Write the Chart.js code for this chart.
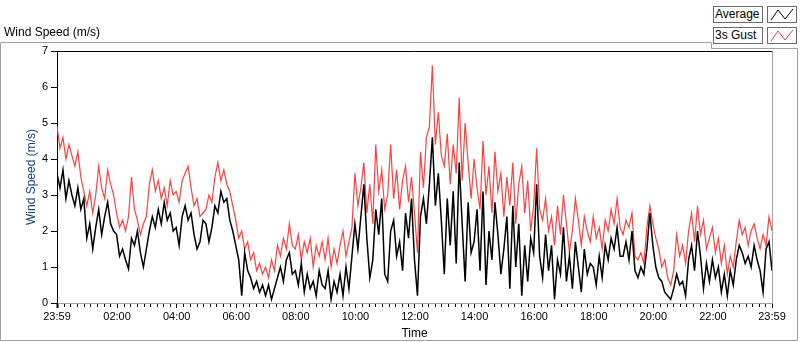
<!DOCTYPE html>
<html>
<head>
<meta charset="utf-8">
<title>Wind Speed (m/s)</title>
<script src="https://cdn.jsdelivr.net/npm/chart.js@4"></script>
<style>
  html, body { margin: 0; padding: 0; background: #fff; }
  #wrap { position: relative; width: 800px; height: 342px; font-family: "Liberation Sans", Arial, sans-serif; color: #000; }
  #chart { position: absolute; left: 0; top: 0; }
  #frame { position: absolute; left: 0; top: 0; pointer-events: none; }
  .caption { position: absolute; left: 4px; top: 25px; font-size: 12px; line-height: 14px; }
  .legText { position: absolute; left: 713px; width: 47px; height: 15px; border: 1px solid #6a6a6a; background: #fff;
             font-size: 12px; line-height: 15px; padding-left: 1px; }
  .legIcon { position: absolute; left: 767px; width: 28px; height: 15px; border: 1px solid #6a6a6a; background: #fff; }
</style>
</head>
<body>
<div id="wrap">
  <canvas id="chart" width="800" height="342"></canvas>
  <svg id="frame" width="800" height="342">
    <path d="M0.5,340.5 V42.5 H711.5 V48.5 H797.5 V340.5 Z" fill="none" stroke="#a0a0a0" stroke-width="1"/>
  </svg>
  <div class="caption">Wind Speed (m/s)</div>
  <div class="legText" style="top:6px">Average</div>
  <svg class="legIcon" style="top:6px" width="28" height="15"><polyline points="3,13 10,3 17,12 25,2" fill="none" stroke="#000" stroke-width="1"/></svg>
  <div class="legText" style="top:27px">3s Gust</div>
  <svg class="legIcon" style="top:27px" width="28" height="15"><polyline points="3,13 10,3 17,12 25,2" fill="none" stroke="#ff4040" stroke-width="1"/></svg>
</div>
<script>
// ─── one sample every 6 minutes, from 23:59 to 23:59 ───
const stepMinutes = 6;

const avgSpeed = [
  3.6, 3.2, 3.7, 2.9, 3.4, 3.0, 2.7, 3.2, 2.6, 2.9,
  1.8, 2.2, 1.5, 2.1, 2.6, 1.9, 2.4, 2.8, 2.2, 2.0,
  1.9, 1.3, 1.5, 1.2, 0.95, 1.8, 1.6, 2.0, 1.4, 1.0,
  1.5, 2.0, 2.4, 2.1, 2.6, 2.2, 2.8, 2.3, 2.5, 2.0,
  2.1, 1.6, 2.4, 2.7, 2.3, 2.5, 1.9, 1.5, 1.7, 2.3,
  2.2, 1.7, 2.1, 2.7, 2.5, 3.1, 2.8, 2.9, 2.3, 2.0,
  1.6, 1.2, 0.2, 1.4, 0.9, 0.7, 0.4, 0.6, 0.3, 0.5,
  0.2, 0.5, 0.1, 0.4, 0.7, 1.0, 0.6, 1.2, 1.4, 0.8,
  0.9, 0.5, 1.1, 0.3, 0.8, 0.4, 0.6, 0.2, 0.9, 0.5,
  0.4, 0.9, 0.1, 0.6, 0.3, 0.8, 0.2, 1.0, 0.4, 1.3,
  2.2, 1.5, 2.4, 3.3, 1.8, 0.7, 1.2, 2.6, 1.9, 2.9,
  0.8, 0.6, 2.0, 2.3, 1.3, 1.7, 0.9, 2.5, 1.8, 2.9,
  1.2, 0.2, 2.4, 2.9, 2.2, 3.3, 4.6, 2.7, 3.6, 2.3,
  0.8, 2.9, 1.6, 3.1, 1.1, 3.9, 2.2, 0.6, 2.8, 1.4,
  1.7, 2.6, 0.9, 3.1, 0.5, 2.0, 1.2, 2.8, 1.9, 0.8,
  1.5, 2.4, 0.4, 2.7, 1.0, 2.2, 0.2, 1.6, 0.6, 1.8,
  1.4, 3.3, 1.3, 0.7, 1.9, 0.9, 1.6, 0.1, 1.2, 0.8,
  2.1, 0.6, 1.3, 0.4, 1.7, 1.0, 0.3, 1.5, 0.8, 1.1,
  1.0, 0.5, 1.3, 0.7, 1.6, 1.2, 1.8, 1.5, 2.1, 1.3,
  1.3, 1.7, 1.2, 2.0, 0.9, 0.7, 1.0, 0.8, 1.5, 2.5,
  1.6, 1.0, 0.7, 0.6, 0.3, 0.2, 0.1, 0.4, 0.8, 0.5,
  0.6, 0.2, 1.2, 1.6, 0.9, 2.0, 1.3, 0.4, 1.1, 0.6,
  1.2, 0.7, 1.0, 0.3, 0.8, 0.2, 0.9, 0.5, 1.2, 1.6,
  1.4, 1.1, 1.3, 1.0, 1.6, 1.2, 0.9, 0.3, 1.5, 1.7,
  0.9
];

const gustSpeed = [
  4.9, 4.3, 4.6, 4.0, 4.4, 4.1, 3.8, 4.2, 3.5, 3.1,
  2.7, 3.1, 2.5, 3.0, 3.8, 3.2, 2.9, 3.7, 3.3, 3.0,
  2.5, 2.1, 2.3, 2.0, 2.4, 3.5, 2.6, 2.3, 1.9, 2.2,
  2.4, 3.3, 3.7, 3.1, 3.4, 2.9, 3.2, 2.7, 3.4, 3.0,
  3.1, 2.8, 3.4, 3.6, 3.8, 3.2, 2.7, 2.9, 2.4, 2.5,
  2.6, 3.0, 2.8, 3.5, 3.9, 3.4, 3.7, 3.3, 3.1, 2.7,
  2.3, 1.8, 2.0, 1.5, 1.7, 1.2, 1.4, 0.9, 1.1, 0.8,
  1.0, 0.7, 1.2, 0.9, 1.6, 1.3, 1.8, 1.5, 2.2, 1.6,
  1.5, 1.9, 1.2, 1.7, 1.4, 1.8, 1.0, 1.6, 1.3, 1.7,
  1.2, 1.8, 1.0, 1.5, 1.1, 1.6, 2.0, 1.3, 1.7, 2.1,
  3.6, 2.7, 3.2, 3.9, 2.5, 3.3, 2.2, 4.4, 3.1, 3.7,
  2.6, 3.0, 4.4, 2.9, 3.7, 2.6, 3.4, 3.8, 2.8, 3.5,
  2.5, 1.4, 4.2, 3.2, 4.6, 4.9, 6.6, 4.4, 5.3, 4.1,
  3.8, 4.7, 3.3, 4.4, 3.6, 5.7, 3.4, 5.0, 3.9, 2.9,
  4.0, 3.2, 2.6, 4.5, 3.0, 3.8, 2.5, 4.2, 3.1, 3.6,
  2.4, 3.5, 2.7, 3.9, 2.2, 3.3, 3.8, 2.5, 3.4, 2.0,
  2.7, 4.3, 2.6, 2.3, 2.9, 2.0, 2.4, 1.6, 2.7, 1.9,
  3.0, 2.2, 1.4, 2.0, 2.9, 2.3, 1.6, 2.4, 2.0, 1.7,
  2.4, 1.8, 2.1, 1.5, 2.3, 2.0, 2.6, 2.2, 2.9, 2.1,
  1.9, 2.3, 2.1, 2.5, 1.3, 1.2, 1.4, 1.1, 2.1, 2.7,
  2.2, 1.8, 1.5, 1.0, 1.2, 0.7, 0.5, 0.9, 1.9, 1.3,
  1.6, 1.1, 2.0, 2.5, 1.7, 2.7, 1.9, 2.3, 1.5, 1.8,
  2.1, 1.4, 1.8, 1.1, 1.6, 0.8, 1.3, 1.0, 1.7, 2.3,
  1.9, 2.1, 1.6, 2.0, 2.2, 1.8, 1.5, 1.9, 1.6, 2.4,
  2.0
];

// axis ticks, in minutes after 23:59
const tickMinutes = [0, 121, 241, 361, 481, 601, 721, 841, 961, 1081, 1201, 1321, 1440];
const tickLabels  = ['23:59', '02:00', '04:00', '06:00', '08:00', '10:00', '12:00',
                     '14:00', '16:00', '18:00', '20:00', '22:00', '23:59'];
const minorPerMajor = 8;

const minutes = avgSpeed.map((_, i) => i * stepMinutes);

const tickFont = { family: '"Liberation Sans", Arial, sans-serif', size: 11 };
const titleFont = { family: '"Liberation Sans", Arial, sans-serif', size: 12 };

// top/right plot border + short minor ticks on the time axis
const framePlugin = {
  id: 'frame',
  afterDraw(chart) {
    const { ctx, chartArea: a, scales } = chart;
    ctx.save();
    ctx.lineWidth = 1;
    ctx.strokeStyle = '#000';
    ctx.beginPath();
    ctx.moveTo(a.left, a.top + 0.5);
    ctx.lineTo(a.right, a.top + 0.5);
    ctx.stroke();
    ctx.strokeStyle = '#a0a0a0';
    ctx.beginPath();
    ctx.moveTo(a.right + 0.5, a.top);
    ctx.lineTo(a.right + 0.5, a.bottom);
    ctx.stroke();
    ctx.strokeStyle = '#000';
    ctx.beginPath();
    for (let i = 0; i < tickMinutes.length - 1; i++) {
      const lo = tickMinutes[i], hi = tickMinutes[i + 1];
      for (let k = 1; k <= minorPerMajor; k++) {
        const x = Math.round(scales.x.getPixelForValue(lo + (hi - lo) * k / (minorPerMajor + 1))) + 0.5;
        ctx.moveTo(x, a.bottom + 1);
        ctx.lineTo(x, a.bottom + 4);
      }
    }
    ctx.stroke();
    ctx.restore();
  }
};

new Chart(document.getElementById('chart'), {
  type: 'line',
  data: {
    labels: minutes,
    datasets: [
      {
        label: 'Average',
        data: avgSpeed,
        borderColor: '#000000',
        borderWidth: 1.5,
        pointRadius: 0,
        tension: 0,
      },
      {
        label: '3s Gust',
        data: gustSpeed,
        borderColor: '#ff4040',
        borderWidth: 1.2,
        pointRadius: 0,
        tension: 0,
      }
    ]
  },
  options: {
    responsive: false,
    animation: false,
    events: [],
    layout: { padding: { top: 51, right: 28, left: 0, bottom: 0 } },
    plugins: {
      legend: { display: false },
      tooltip: { enabled: false }
    },
    scales: {
      x: {
        type: 'linear',
        min: 0,
        max: 1440,
        afterBuildTicks: s => { s.ticks = tickMinutes.map(v => ({ value: v })); },
        afterFit: s => { s.height = 39; },
        ticks: {
          autoSkip: false,
          maxRotation: 0,
          padding: 2,
          color: '#000',
          font: tickFont,
          callback: v => { const i = tickMinutes.indexOf(v); return i >= 0 ? tickLabels[i] : ''; }
        },
        grid: {
          drawOnChartArea: false,
          tickLength: 5,
          tickColor: '#000',
          tickWidth: c => c.index === 0 ? 2 : 1
        },
        border: { color: '#a0a0a0' },
        title: { display: true, text: 'Time', color: '#000', font: titleFont, padding: { top: 0, bottom: 1 } }
      },
      y: {
        min: 0,
        max: 7,
        afterFit: s => { s.width = 57; },
        ticks: { stepSize: 1, padding: 3, color: '#000', font: tickFont },
        grid: { drawOnChartArea: false, tickLength: 6, tickColor: '#000' },
        border: { color: '#000' },
        title: { display: true, text: 'Wind Speed (m/s)', color: '#1f3f7f', font: titleFont, padding: { top: 24, bottom: 0 } }
      }
    }
  },
  plugins: [framePlugin]
});
</script>
</body>
</html>
